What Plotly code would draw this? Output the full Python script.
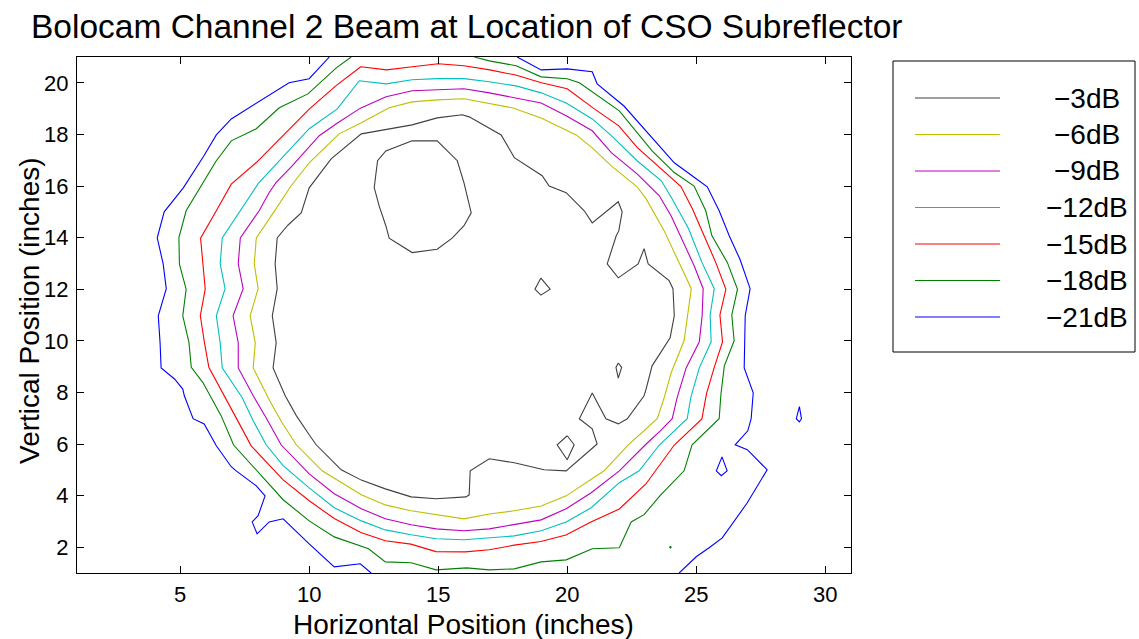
import plotly.graph_objects as go

# Contour levels of the normalised beam map (dB) and their legend labels
levels_db = [-3, -6, -9, -12, -15, -18, -21]
level_labels = ["\u22123dB", "\u22126dB", "\u22129dB", "\u221212dB", "\u221215dB", "\u221218dB", "\u221221dB"]
level_colors = ["#404040", "#bfbf00", "#bf00bf", "#00bfbf", "#ff0000", "#008000", "#0000ff"]

# Contour vertices in inches (None separates disconnected pieces of a level)
x_3db = [9.15, 9.69, 10.0, 10.85, 12.02, 13.99, 14.96, 15.93, 16.2, 17.44, 17.95, 19.03, 19.3, 19.96,
         20.66, 20.97, 21.98, 22.13, 22.0, 21.9, 21.55, 21.98, 22.75, 22.98, 23.14, 23.95, 24.1, 24.15,
         23.99, 23.29, 23.06, 22.98, 22.33, 21.98, 21.5, 20.97, 20.47, 20.97, 21.16, 19.96, 19.1, 17.95,
         16.98, 16.24, 16.2, 16.08, 14.92, 13.95, 12.95, 12.02, 11.24, 10.27, 10.0, 9.5, 9.07, 8.95, 8.6,
         8.72, 8.57, 8.76, 8.68, 8.76, 9.15, None,
         13.99, 14.96, 15.74, 16.0, 16.28, 16.0, 15.54, 14.96, 13.99, 13.1, 12.97, 12.71, 12.52, 12.65,
         12.97, 13.99, None,
         18.98, 19.34, 18.98, 18.75, 18.98, None,
         21.98, 22.11, 21.98, 21.89, 21.98, None,
         20.0, 20.27, 20.0, 19.61, 20.0]
y_3db = [14.46, 14.96, 15.93, 17.05, 18.02, 18.37, 18.64, 18.76, 18.68, 17.98, 17.1, 16.4, 16.0, 15.74,
         15.04, 14.57, 15.39, 15.0, 14.26, 14.07, 12.98, 12.44, 12.98, 13.57, 12.98, 12.33, 12.02, 10.97,
         10.12, 9.03, 8.14, 7.87, 6.98, 6.78, 6.98, 7.98, 6.98, 6.59, 6.0, 4.96, 5.0, 5.27,
         5.43, 4.96, 4.03, 3.95, 3.88, 3.95, 4.26, 4.6, 5.0, 5.97, 6.36, 7.1, 7.87, 8.14, 8.95,
         9.92, 10.97, 12.02, 12.98, 13.99, 14.46, None,
         17.75, 17.75, 16.98, 16.12, 14.96, 14.46, 13.98, 13.55, 13.42, 13.98, 14.46, 15.23, 15.94, 16.98,
         17.36, 17.75, None,
         12.43, 12.0, 11.77, 12.0, 12.43, None,
         9.14, 8.97, 8.55, 8.97, 9.14, None,
         6.32, 5.97, 5.39, 5.97, 6.32]

x_6db = [12.02, 13.1, 13.99, 14.96, 16.0, 17.87, 18.99, 20.35, 20.97, 21.71, 22.71, 23.06, 23.76, 24.07,
         24.81, 24.53, 24.03, 23.76, 23.49, 22.33, 21.43, 19.96, 18.99, 17.95, 16.98, 16.0, 14.92, 13.95,
         12.95, 12.02, 10.5, 9.5, 8.95, 8.5, 7.83, 7.91, 7.71, 8.02, 7.87, 7.95, 8.6, 9.3, 10.0, 11.16, 12.02]
y_6db = [18.45, 19.03, 19.26, 19.34, 19.38, 19.03, 18.64, 17.98, 17.48, 16.78, 15.97, 15.5, 14.26, 13.6,
         12.02, 10.0, 8.76, 7.8, 6.98, 5.93, 4.96, 3.99, 3.6, 3.41, 3.29, 3.1, 3.26, 3.41,
         3.64, 4.03, 4.96, 5.97, 6.82, 7.62, 8.95, 9.92, 10.97, 12.02, 12.98, 13.99, 14.95, 16.01, 16.9, 18.02, 18.45]

x_9db = [11.94, 12.98, 13.99, 14.96, 16.0, 16.98, 18.02, 18.99, 19.96, 20.97, 21.71, 22.71, 23.57, 24.03,
         24.92, 25.27, 25.23, 25.12, 24.61, 24.26, 24.07, 23.6, 23.06, 22.02, 20.93, 19.96, 18.99, 17.95,
         16.98, 16.0, 14.92, 13.95, 12.95, 12.02, 10.97, 10.0, 8.91, 8.33, 7.83, 7.25, 7.25, 7.05, 7.44,
         7.25, 7.33, 8.06, 8.45, 8.72, 9.34, 10.39, 11.05, 11.94]
y_9db = [18.99, 19.46, 19.69, 19.73, 19.77, 19.61, 19.42, 19.22, 18.72, 18.14, 17.29, 16.47, 15.62, 14.84,
         12.91, 12.02, 10.97, 9.96, 8.95, 7.8, 6.98, 6.5, 6.0, 4.96, 4.11, 3.49, 3.06, 2.87,
         2.71, 2.64, 2.71, 2.87, 3.1, 3.49, 4.07, 4.84, 5.97, 7.02, 7.87, 8.95, 9.92, 10.97, 12.02,
         12.98, 13.99, 15.04, 15.75, 16.14, 16.78, 17.95, 18.41, 18.99]

x_12db = [11.94, 12.98, 13.99, 14.96, 16.0, 16.98, 18.02, 18.99, 19.96, 20.97, 21.71, 22.71, 23.65, 24.07,
          24.7, 25.23, 25.7, 25.54, 25.58, 25.12, 24.79, 24.65, 23.57, 22.79, 22.02, 20.93, 19.96, 18.99,
          17.95, 16.98, 16.0, 14.92, 13.95, 12.95, 12.02, 10.97, 10.0, 8.99, 8.33, 7.83, 7.4, 6.63, 6.55,
          6.4, 6.74, 6.55, 6.63, 8.02, 10.0, 11.09, 11.94]
y_12db = [20.08, 19.96, 20.12, 20.16, 20.16, 20.04, 19.88, 19.61, 19.22, 18.6, 17.95, 16.98, 16.2, 15.5,
          14.35, 13.02, 12.02, 11.0, 9.96, 8.95, 7.8, 6.98, 5.96, 4.96, 4.5, 3.53, 2.98, 2.64,
          2.44, 2.36, 2.29, 2.33, 2.48, 2.67, 3.02, 3.53, 4.3, 5.16, 5.97, 6.9, 7.8, 8.95, 9.92,
          10.97, 12.02, 12.98, 13.99, 16.09, 18.22, 18.99, 20.08]

x_15db = [12.0, 13.0, 14.0, 15.0, 16.0, 17.0, 18.0, 19.0, 20.0, 21.0, 22.0, 22.72, 24.41, 24.86, 25.76,
          26.15, 25.92, 26.02, 25.7, 25.4, 25.22, 24.15, 23.05, 22.02, 20.92, 19.95, 18.98, 17.95, 16.98,
          16.05, 14.91, 13.94, 12.95, 12.0, 10.97, 10.0, 8.99, 7.75, 7.3, 6.11, 5.94, 5.78, 5.97, 5.88,
          5.79, 6.4, 6.98, 7.95, 10.0, 11.03, 12.0]
y_15db = [20.62, 20.5, 20.62, 20.74, 20.66, 20.5, 20.3, 20.0, 19.77, 19.03, 18.33, 17.49, 15.98, 15.1, 13.03,
          12.0, 11.0, 9.96, 8.97, 7.95, 6.97, 5.96, 4.45, 3.48, 2.98, 2.47, 2.22, 2.08, 1.9,
          1.82, 1.83, 2.12, 2.25, 2.57, 3.11, 3.8, 4.61, 5.93, 6.77, 8.97, 9.93, 10.97, 12.0, 12.97,
          13.98, 15.04, 16.07, 16.91, 18.98, 19.88, 20.62]

x_18db = [11.63, 11.05, 9.95, 8.84, 7.95, 6.98, 6.38, 5.75, 5.23, 4.95, 4.97, 5.23, 5.1, 5.34, 5.43,
          5.88, 6.59, 7.07, 7.69, 8.99, 10.0, 10.97, 12.3, 12.95, 13.95, 14.92, 16.1, 16.98, 17.95,
          18.99, 19.96, 20.97, 22.02, 22.48, 22.98, 23.6, 24.53, 24.84, 25.89, 25.96, 26.09, 26.47, 26.38,
          26.6, 26.21, 25.61, 25.37, 24.92, 24.15, 23.29, 22.02, 20.47, 20.0, 18.99, 18.02, 16.98, 16.4,
          None,
          24.0, 23.97, 24.0, 24.03, 24.0]
y_18db = [21.0, 20.58, 19.57, 19.03, 18.22, 17.75, 16.95, 15.88, 15.04, 14.0, 12.97, 12.0, 10.97, 9.93, 8.97,
          8.38, 7.09, 5.96, 5.28, 3.84, 3.02, 2.4, 1.94, 1.43, 1.4, 1.12, 1.2, 1.12, 1.16,
          1.43, 1.51, 1.94, 1.98, 2.98, 3.26, 4.0, 4.96, 5.97, 6.98, 7.95, 9.03, 10.0, 11.0,
          12.0, 13.03, 14.07, 15.04, 16.0, 16.52, 17.36, 18.91, 20.0, 20.16, 20.23, 20.66, 20.85, 21.0,
          None,
          2.03, 2.0, 1.97, 2.0, 2.03]

x_21db = [10.78, 10.0, 9.22, 7.95, 6.98, 6.4, 5.92, 5.12, 4.38, 4.11, 4.34, 4.46, 4.15, 4.22, 4.26,
          4.78, 5.1, 5.16, 5.5, 5.93, 6.4, 6.98, 7.17, 7.95, 8.29, 8.02, 7.79, 7.98, 8.45, 8.99, 10.0,
          10.97, 11.98, 12.4, None,
          24.34, 25.0, 25.5, 26.01, 26.98, 27.75, 26.98, 26.51, 27.0, 27.13, 27.21, 27.0, 26.86, 26.9,
          27.09, 26.7, 26.28, 25.89, 25.43, 25.0, 24.15, 22.2, 21.16, 20.97, 20.0, 18.99, 18.06, None,
          29.0, 28.88, 29.0, 29.08, 29.0, None,
          26.0, 25.78, 25.97, 26.2, 26.0]
y_21db = [21.0, 20.16, 20.0, 19.22, 18.6, 17.98, 17.17, 15.93, 15.0, 13.99, 12.98, 12.02, 10.97, 9.92, 8.95,
          8.52, 8.13, 7.87, 6.98, 6.78, 5.93, 5.12, 4.96, 4.38, 3.99, 3.22, 2.98, 2.52, 2.98, 3.1, 2.13,
          1.24, 1.36, 1.0, None,
          1.0, 1.63, 1.98, 2.36, 3.72, 5.0, 5.78, 5.97, 6.51, 6.98, 7.98, 8.53, 8.95, 10.97,
          12.02, 13.15, 14.07, 15.04, 15.97, 16.28, 16.9, 19.1, 19.96, 20.43, 20.54, 20.5, 21.0, None,
          7.45, 6.98, 6.86, 6.98, 7.45, None,
          5.5, 4.96, 4.77, 4.96, 5.5]

contour_x = [x_3db, x_6db, x_9db, x_12db, x_15db, x_18db, x_21db]
contour_y = [y_3db, y_6db, y_9db, y_12db, y_15db, y_18db, y_21db]

FONT = "Liberation Sans, Arial, Helvetica, sans-serif"
W, H = 1139, 639
ML, MR, MT, MB = 77, 288, 57, 66
PW, PH = W - ML - MR, H - MT - MB


def px_to_paper_x(px):
    return (px - ML) / PW


def px_to_paper_y(py):
    return (H - MB - py) / PH


fig = go.Figure()
for lbl, col, xs, ys in zip(level_labels, level_colors, contour_x, contour_y):
    fig.add_trace(go.Scatter(x=xs, y=ys, mode="lines", name=lbl,
                             line=dict(color=col, width=1.1), showlegend=False,
                             connectgaps=False, hoverinfo="skip"))

axis_common = dict(showline=True, linecolor="black", linewidth=1, mirror="ticks",
                   ticks="inside", ticklen=7, tickwidth=1, tickcolor="black",
                   showgrid=False, zeroline=False,
                   tickfont=dict(family=FONT, size=22, color="black"))

fig.update_layout(
    width=W, height=H,
    margin=dict(l=ML, r=MR, t=MT, b=MB, pad=0),
    paper_bgcolor="white", plot_bgcolor="white",
    showlegend=False,
    xaxis=dict(range=[1, 31], tickvals=[5, 10, 15, 20, 25, 30], ticklabelstandoff=2, **axis_common),
    yaxis=dict(range=[1, 21], tickvals=[2, 4, 6, 8, 10, 12, 14, 16, 18, 20], ticklabelstandoff=3,
               **axis_common),
)

annotations = [
    dict(text="Bolocam Channel 2 Beam at Location of CSO Subreflector", xref="paper", yref="paper",
         x=px_to_paper_x(466), y=px_to_paper_y(27), xanchor="center", yanchor="middle", showarrow=False,
         font=dict(family=FONT, size=33.5, color="black")),
    dict(text="Horizontal Position (inches)", xref="paper", yref="paper",
         x=px_to_paper_x(463), y=px_to_paper_y(624), xanchor="center", yanchor="middle", showarrow=False,
         font=dict(family=FONT, size=28, color="black")),
    dict(text="Vertical Position (inches)", xref="paper", yref="paper", textangle=-90,
         x=px_to_paper_x(29), y=px_to_paper_y(311), xanchor="center", yanchor="middle",
         showarrow=False, font=dict(family=FONT, size=28, color="black")),
]

# Boxed legend to the right of the axes
shapes = [dict(type="rect", xref="paper", yref="paper",
               x0=px_to_paper_x(893), x1=px_to_paper_x(1135),
               y0=px_to_paper_y(352), y1=px_to_paper_y(61),
               line=dict(color="black", width=1), fillcolor="white", layer="below")]
for i, (lbl, col) in enumerate(zip(level_labels, level_colors)):
    row_y = px_to_paper_y(98 + i * 36.5)
    shapes.append(dict(type="line", xref="paper", yref="paper",
                       x0=px_to_paper_x(915), x1=px_to_paper_x(1000), y0=row_y, y1=row_y,
                       line=dict(color=col, width=1.1)))
    annotations.append(dict(text=lbl, xref="paper", yref="paper", x=px_to_paper_x(1087), y=row_y,
                            xanchor="center", yanchor="middle", showarrow=False,
                            font=dict(family=FONT, size=28, color="black")))

fig.update_layout(shapes=shapes, annotations=annotations)
fig.write_html("out.html")
